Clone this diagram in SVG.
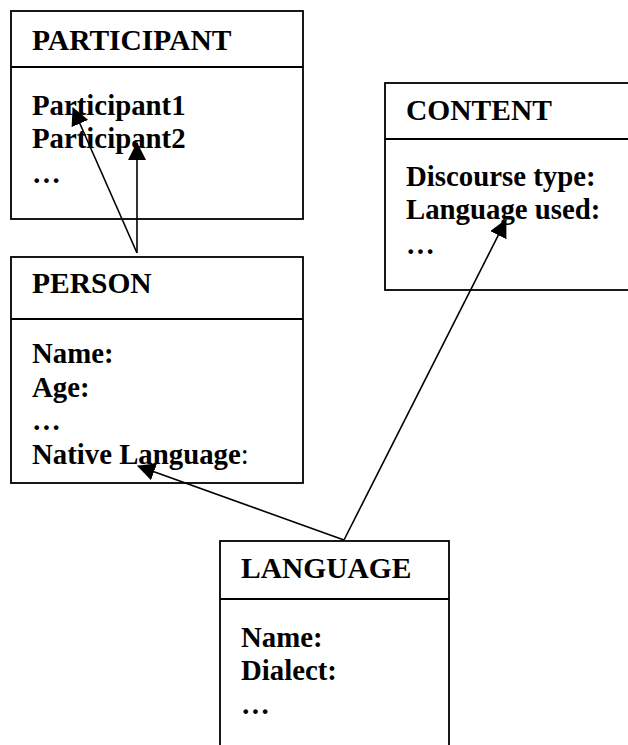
<svg xmlns="http://www.w3.org/2000/svg" width="628" height="745" viewBox="0 0 628 745">
  <style>
    .box { fill: #ffffff; stroke: #000000; stroke-width: 1.8; }
    .div { stroke: #000000; stroke-width: 1.8; fill: none; }
    .t { font-family: "Liberation Serif", "Times New Roman", serif; font-weight: bold; font-size: 28.8px; fill: #000000; }
    .h { font-size: 29.5px; }
    .conn { stroke: #000000; stroke-width: 1.6; fill: none; marker-end: url(#arrow); }
  </style>
  <defs>
    <marker id="arrow" markerUnits="userSpaceOnUse" viewBox="0 0 18 18" refX="17" refY="9" markerWidth="18" markerHeight="18" orient="auto">
      <path d="M0,0 L18,9 L0,18 Z" fill="#000000"/>
    </marker>
  </defs>

  <g id="participant">
    <rect class="box" x="11" y="11" width="292" height="208"/>
    <line class="div" x1="11" y1="67" x2="303" y2="67"/>
    <text class="t h" x="32" y="50">PARTICIPANT</text>
    <text class="t" x="32" y="115">Participant1</text>
    <text class="t" x="32" y="148">Participant2</text>
    <text class="t" x="32" y="183">…</text>
  </g>

  <g id="person">
    <rect class="box" x="11" y="257" width="292" height="226"/>
    <line class="div" x1="11" y1="319" x2="303" y2="319"/>
    <text class="t h" x="32" y="293">PERSON</text>
    <text class="t" x="32" y="363">Name:</text>
    <text class="t" x="32" y="397">Age:</text>
    <text class="t" x="32" y="430">…</text>
    <text class="t" x="32" y="464">Native Language<tspan font-weight="normal">:</tspan></text>
  </g>

  <g id="content">
    <rect class="box" x="385" y="83" width="246" height="207"/>
    <line class="div" x1="385" y1="139" x2="631" y2="139"/>
    <text class="t h" x="406" y="120">CONTENT</text>
    <text class="t" x="406" y="186">Discourse type:</text>
    <text class="t" x="406" y="219">Language used:</text>
    <text class="t" x="406" y="254">…</text>
  </g>

  <g id="language">
    <rect class="box" x="220" y="541" width="229" height="220"/>
    <line class="div" x1="220" y1="599" x2="449" y2="599"/>
    <text class="t h" x="241" y="578">LANGUAGE</text>
    <text class="t" x="241" y="647">Name:</text>
    <text class="t" x="241" y="680">Dialect:</text>
    <text class="t" x="241" y="714">…</text>
  </g>

  <g id="connectors">
    <line class="conn" x1="137" y1="253" x2="73" y2="108"/>
    <line class="conn" x1="137" y1="253" x2="137" y2="143"/>
    <line class="conn" x1="344" y1="540" x2="138" y2="466"/>
    <line class="conn" x1="344" y1="540" x2="506" y2="220"/>
  </g>
</svg>
